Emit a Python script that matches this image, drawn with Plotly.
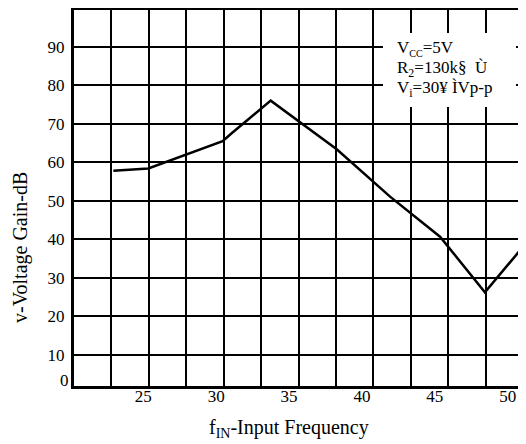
import plotly.graph_objects as go

# Data
freq = [22.94, 25.34, 30.44, 31.08, 33.74, 38.27, 41.93, 45.36, 48.44, 51.26]
gain = [57.8, 58.4, 65.5, 67.6, 76.0, 63.4, 51.1, 40.7, 26.3, 39.0]
x_tick_vals = [25, 30, 35, 40, 45, 50]
x_tick_text = ["25", "30", "35", "40", "45", "50"]
y_tick_vals = [10, 20, 30, 40, 50, 60, 70, 80, 90]
y_tick_text = ["10", "20", "30", "40", "50", "60", "70", "80", "90"]
cond_lines = [
    "V<sub><span style=\"font-size:10px\">CC</span></sub>=5V",
    "R<sub>2</sub>=130k§\u00a0\u00a0Ù",
    "V<sub>i</sub>=30¥\u00a0ÌVp-p",
]

FONT = "Liberation Serif"
OFF = 8  # page body margin of the browser
W, H = 526 - OFF, 444 - OFF
L, R, T, B = 66, 0, 2, 58
PW, PH = W - L - R, H - T - B

def px_x(px):  # page pixel -> paper x
    return (px - OFF - L) / PW

def px_y(py):  # page pixel -> paper y
    return (H - B - (py - OFF)) / PH

x_range = [20.24, 51.26]
y_range = [1.96, 99.52]

fig = go.Figure()
fig.add_trace(go.Scatter(x=freq, y=gain, mode="lines",
                         line=dict(color="black", width=2.5),
                         showlegend=False, hoverinfo="skip"))

fig.update_layout(
    width=W, height=H,
    margin=dict(l=L, r=R, t=T, b=B, pad=0),
    paper_bgcolor="white", plot_bgcolor="white",
    font=dict(family=FONT, size=17, color="black"),
    xaxis=dict(range=x_range, tickmode="array", tickvals=x_tick_vals, ticktext=x_tick_text,
               showgrid=False, zeroline=False, ticks="",
               showline=True, linecolor="black", linewidth=3, mirror=True,
               ticklabelstandoff=-7,
               tickfont=dict(family=FONT, size=17, color="black"),
               minor=dict(tick0=20.24, dtick=2.568, showgrid=True, gridcolor="black",
                          gridwidth=2, ticks="")),
    yaxis=dict(range=y_range, tickmode="array", tickvals=y_tick_vals, ticktext=y_tick_text,
               showgrid=True, gridcolor="black", gridwidth=2, zeroline=False, ticks="",
               showline=True, linecolor="black", linewidth=3,
               ticklabelstandoff=3,
               tickfont=dict(family=FONT, size=17, color="black")),
)

# white box behind the test conditions
fig.add_shape(type="rect", xref="paper", yref="paper",
              x0=px_x(383), x1=px_x(516), y0=px_y(107), y1=px_y(33),
              fillcolor="white", line=dict(width=0), layer="above")

for i, t in enumerate(cond_lines):
    fig.add_annotation(text=t, xref="paper", yref="paper",
                       x=px_x(395), y=px_y(49 + 20 * i),
                       xanchor="left", yanchor="middle", showarrow=False,
                       font=dict(family=FONT, size=17, color="black"))

# "0" label at the bottom of the y axis
fig.add_annotation(text="0", xref="paper", yref="y", x=0, y=3.3,
                   xanchor="right", yanchor="middle", xshift=-3, showarrow=False,
                   font=dict(family=FONT, size=17, color="black"))

# axis titles
fig.add_annotation(text="v-Voltage Gain-dB", xref="paper", yref="paper",
                   x=px_x(20), y=px_y(248), textangle=-90,
                   xanchor="center", yanchor="middle", showarrow=False,
                   font=dict(family=FONT, size=20, color="black"))
fig.add_annotation(text="f<sub>IN</sub>-Input Frequency", xref="paper", yref="paper",
                   x=px_x(289), y=px_y(428),
                   xanchor="center", yanchor="middle", showarrow=False,
                   font=dict(family=FONT, size=20, color="black"))

fig.write_html("out.html")
